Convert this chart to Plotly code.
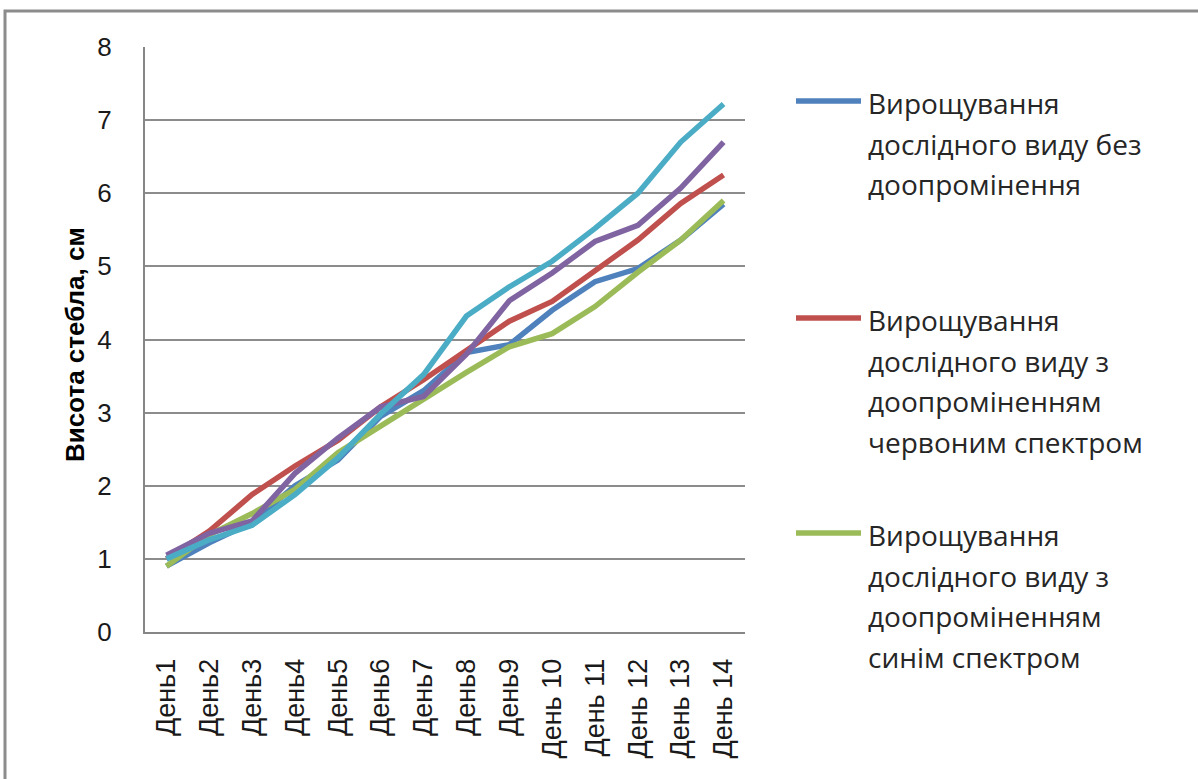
import plotly.graph_objects as go

# Stem height by day, cm
days = ["День1", "День2", "День3", "День4", "День5", "День6", "День7",
        "День8", "День9", "День 10", "День 11", "День 12", "День 13", "День 14"]

no_light = [0.90, 1.22, 1.50, 2.00, 2.35, 2.95, 3.30, 3.82, 3.93, 4.40, 4.79, 4.97, 5.36, 5.85]
red_light = [1.00, 1.38, 1.88, 2.27, 2.62, 3.08, 3.45, 3.86, 4.25, 4.52, 4.95, 5.36, 5.86, 6.25]
blue_light = [0.90, 1.33, 1.62, 1.95, 2.45, 2.82, 3.18, 3.55, 3.90, 4.08, 4.45, 4.92, 5.36, 5.90]
series_4 = [1.05, 1.35, 1.52, 2.17, 2.65, 3.08, 3.22, 3.80, 4.53, 4.91, 5.34, 5.56, 6.07, 6.70]
series_5 = [1.00, 1.26, 1.46, 1.88, 2.38, 2.98, 3.52, 4.32, 4.72, 5.07, 5.52, 6.00, 6.70, 7.22]

names = [
    ["Вирощування", "дослідного виду без", "доопромінення"],
    ["Вирощування", "дослідного виду з", "доопроміненням", "червоним спектром"],
    ["Вирощування", "дослідного виду з", "доопроміненням", "синім спектром"],
    ["Ряд4"],
    ["Ряд5"],
]
colors = ["#4F81BD", "#C0504D", "#9BBB59", "#8064A2", "#4BACC6"]
values = [no_light, red_light, blue_light, series_4, series_5]

W, H = 1198, 779
L, R, T, B = 145, 745, 47, 632


def px(x):
    return (x - L) / (R - L)


def py(y):
    return (B - y) / (B - T)


fig = go.Figure()
for vals, nm, col in zip(values, names, colors):
    fig.add_trace(go.Scatter(
        x=days, y=vals, mode="lines", name=" ".join(nm),
        line=dict(color=col, width=5.5), showlegend=False,
    ))

shapes = []
annotations = []

# Outer chart frame (its right and bottom edges fall outside the page)
shapes.append(dict(type="rect", xref="paper", yref="paper",
                   x0=px(5), x1=px(1260), y0=py(11), y1=py(840),
                   line=dict(color="#8c8c8c", width=3), layer="below"))

# Legend: line key plus wrapped label lines
legend_tops = [103, 320, 535]
step = 40.5
for i, top in enumerate(legend_tops):
    shapes.append(dict(type="line", xref="paper", yref="paper",
                       x0=px(796), x1=px(861), y0=py(top - 2), y1=py(top - 2),
                       line=dict(color=colors[i], width=5.5)))
    for j, txt in enumerate(names[i]):
        annotations.append(dict(
            text=txt, xref="paper", yref="paper", x=px(866), y=py(top + j * step),
            xanchor="left", yanchor="middle", showarrow=False,
            font=dict(family="Open Sans", size=28, color="#262626"),
        ))

# Axis title
annotations.append(dict(
    text="<b>Висота стебла, см</b>", xref="paper", yref="paper",
    x=px(75), y=py(345), xanchor="center", yanchor="middle", textangle=-90,
    showarrow=False, font=dict(size=26, family="Liberation Sans", color="#000000"),
))

fig.update_layout(
    width=W, height=H,
    margin=dict(l=L, r=W - R, t=T, b=H - B),
    paper_bgcolor="white", plot_bgcolor="white",
    shapes=shapes, annotations=annotations,
    font=dict(family="Liberation Sans", color="#000000"),
)
fig.update_xaxes(
    type="category", range=[-0.5, 13.5], tickangle=-90,
    tickfont=dict(size=27, family="Liberation Sans", color="#1a1a1a"),
    showgrid=False, showline=True, linecolor="#868686", linewidth=2,
    ticks="", ticklabelstandoff=14,
)
fig.update_yaxes(
    range=[0, 8], dtick=1, tickfont=dict(size=26, family="Liberation Sans", color="#1a1a1a"),
    showgrid=True, gridcolor="#8c8c8c", gridwidth=2,
    showline=True, linecolor="#868686", linewidth=2, zeroline=False,
    ticks="", ticklabelstandoff=26,
)

fig.write_html("out.html")
